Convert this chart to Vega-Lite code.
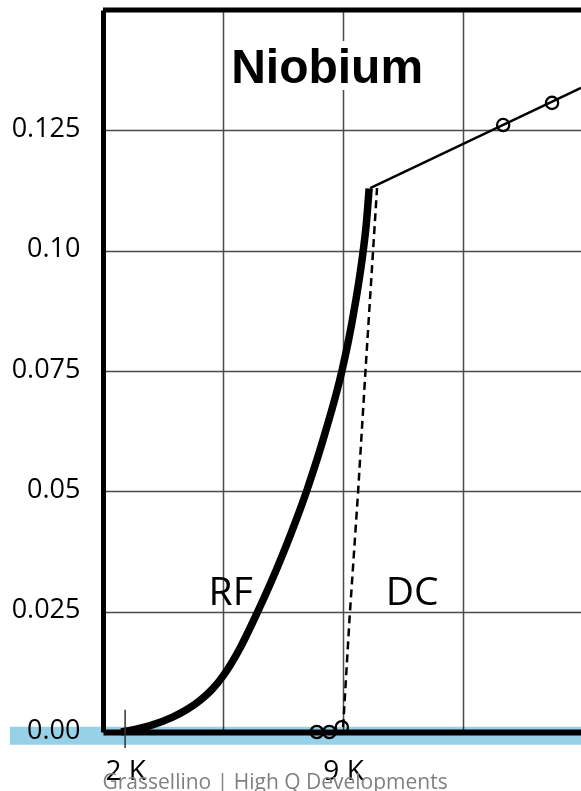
{
  "$schema": "https://vega.github.io/schema/vega-lite/v6.json",
  "width": 478,
  "height": 722,
  "autosize": {"type": "none"},
  "padding": {"left": 103, "top": 10, "right": 0, "bottom": 59},
  "background": "white",
  "config": {"view": {"stroke": null}},
  "datasets": {
    "rf": [
      {"T": 1.872, "R": 0.0},
      {"T": 2.321, "R": 0.00054},
      {"T": 2.803, "R": 0.00132},
      {"T": 3.509, "R": 0.00303},
      {"T": 3.959, "R": 0.00456},
      {"T": 4.408, "R": 0.00657},
      {"T": 4.794, "R": 0.00885},
      {"T": 5.147, "R": 0.01166},
      {"T": 5.693, "R": 0.01747},
      {"T": 6.239, "R": 0.02472},
      {"T": 7.042, "R": 0.03659},
      {"T": 7.845, "R": 0.05036},
      {"T": 8.423, "R": 0.06214},
      {"T": 8.969, "R": 0.07521},
      {"T": 9.29, "R": 0.08529},
      {"T": 9.643, "R": 0.09981},
      {"T": 9.739, "R": 0.10513},
      {"T": 9.836, "R": 0.1129}
    ],
    "dc": [
      {"T": 9.0, "R": 0.001},
      {"T": 9.21, "R": 0.0239},
      {"T": 9.48, "R": 0.0497},
      {"T": 9.715, "R": 0.0746},
      {"T": 10.09, "R": 0.113}
    ],
    "normal": [
      {"T": 9.87, "R": 0.113},
      {"T": 16.64, "R": 0.1338}
    ],
    "points": [
      {"T": 8.156, "R": 0.0},
      {"T": 8.56, "R": 0.0},
      {"T": 8.96, "R": 0.001},
      {"T": 14.14, "R": 0.1261},
      {"T": 15.71, "R": 0.1307}
    ],
    "labels": [
      {"text": "RF", "T": 5.39, "R": 0.0264},
      {"text": "DC", "T": 11.22, "R": 0.0264}
    ],
    "title": [
      {"text": "Niobium", "T": 8.487, "R": 0.1348}
    ]
  },
  "layer": [
    {
      "data": {"name": "rf"},
      "mark": {"type": "line", "color": "black", "strokeWidth": 7.5, "interpolate": "monotone", "strokeCap": "butt"},
      "encoding": {
        "x": {
          "field": "T", "type": "quantitative",
          "scale": {"domain": [1.29, 16.64], "nice": false, "zero": false},
          "axis": {
            "values": [2, 5.147, 9, 12.853],
            "labelExpr": "datum.value == 2 ? '2 K' : (datum.value == 9 ? '9 K' : '')",
            "labelFont": "Open Sans", "labelFontSize": 28, "labelColor": "black",
            "labelBaseline": "top", "labelPadding": 25, "labelFlush": false, "labelOverlap": false, "labelBound": false,
            "ticks": false,
            "domain": true, "domainColor": "black", "domainWidth": 6,
            "grid": true, "gridColor": "#4a4a4a", "gridWidth": 1.5,
            "gridOpacity": {"condition": {"test": "datum.value == 2", "value": 0}, "value": 1},
            "title": "Grassellino | High Q Developments",
            "titleFont": "Open Sans", "titleFontSize": 21, "titleFontWeight": "normal", "titleColor": "#808080",
            "titleAlign": "left", "titleBaseline": "alphabetic", "titleX": -1, "titleY": 56, "titleAnchor": "start",
            "zindex": 0
          }
        },
        "y": {
          "field": "R", "type": "quantitative",
          "scale": {"domain": [0, 0.15], "nice": false},
          "axis": {
            "values": [0, 0.025, 0.05, 0.075, 0.1, 0.125],
            "labelExpr": "datum.value < 0.001 ? '0.00' : (abs(datum.value - 0.05) < 0.001 ? '0.05' : (abs(datum.value - 0.1) < 0.001 ? '0.10' : format(datum.value, '.3f')))",
            "labelFont": "Open Sans", "labelFontSize": 27, "labelColor": "black",
            "labelPadding": 23, "labelOffset": -2, "labelFlush": false, "labelOverlap": false, "labelBound": false,
            "ticks": false,
            "domain": true, "domainColor": "black", "domainWidth": 5,
            "grid": true, "gridColor": "#4a4a4a", "gridWidth": 1.5,
            "title": null,
            "zindex": 0
          }
        }
      }
    },
    {
      "data": {"values": [{}]},
      "mark": {"type": "rule", "color": "#97d1e8", "strokeWidth": 18, "blend": "multiply", "strokeCap": "butt"},
      "encoding": {
        "x": {"datum": -1.7, "type": "quantitative"},
        "x2": {"datum": 16.64},
        "y": {"datum": -0.0008, "type": "quantitative"}
      }
    },
    {
      "data": {"values": [{}]},
      "mark": {"type": "rule", "color": "black", "strokeWidth": 5},
      "encoding": {
        "y": {"datum": 0.15, "type": "quantitative"}
      }
    },
    {
      "data": {"values": [{}]},
      "mark": {"type": "rule", "color": "#333333", "strokeWidth": 1.5},
      "encoding": {
        "x": {"datum": 2, "type": "quantitative"},
        "y": {"datum": 0.0046, "type": "quantitative"},
        "y2": {"datum": -0.0033}
      }
    },
    {
      "data": {"name": "normal"},
      "mark": {"type": "line", "color": "black", "strokeWidth": 2.5},
      "encoding": {
        "x": {"field": "T", "type": "quantitative"},
        "y": {"field": "R", "type": "quantitative"}
      }
    },
    {
      "data": {"name": "dc"},
      "mark": {"type": "line", "color": "black", "strokeWidth": 2.5, "strokeDash": [8, 5]},
      "encoding": {
        "x": {"field": "T", "type": "quantitative"},
        "y": {"field": "R", "type": "quantitative"}
      }
    },
    {
      "data": {"name": "points"},
      "mark": {"type": "point", "shape": "circle", "filled": false, "color": "black", "strokeWidth": 2.3, "size": 150, "opacity": 1},
      "encoding": {
        "x": {"field": "T", "type": "quantitative"},
        "y": {"field": "R", "type": "quantitative"}
      }
    },
    {
      "data": {"name": "title"},
      "mark": {"type": "text", "font": "Liberation Sans", "fontWeight": "bold", "fontSize": 48, "align": "center", "baseline": "alphabetic", "fill": "white", "stroke": "white", "strokeWidth": 14, "strokeJoin": "round"},
      "encoding": {
        "x": {"field": "T", "type": "quantitative"},
        "y": {"field": "R", "type": "quantitative"},
        "text": {"field": "text"}
      }
    },
    {
      "data": {"name": "title"},
      "mark": {"type": "text", "font": "Liberation Sans", "fontWeight": "bold", "fontSize": 48, "align": "center", "baseline": "alphabetic", "color": "black"},
      "encoding": {
        "x": {"field": "T", "type": "quantitative"},
        "y": {"field": "R", "type": "quantitative"},
        "text": {"field": "text"}
      }
    },
    {
      "data": {"name": "labels"},
      "mark": {"type": "text", "font": "Open Sans", "fontSize": 39, "align": "center", "baseline": "alphabetic", "color": "black"},
      "encoding": {
        "x": {"field": "T", "type": "quantitative"},
        "y": {"field": "R", "type": "quantitative"},
        "text": {"field": "text"}
      }
    }
  ]
}
